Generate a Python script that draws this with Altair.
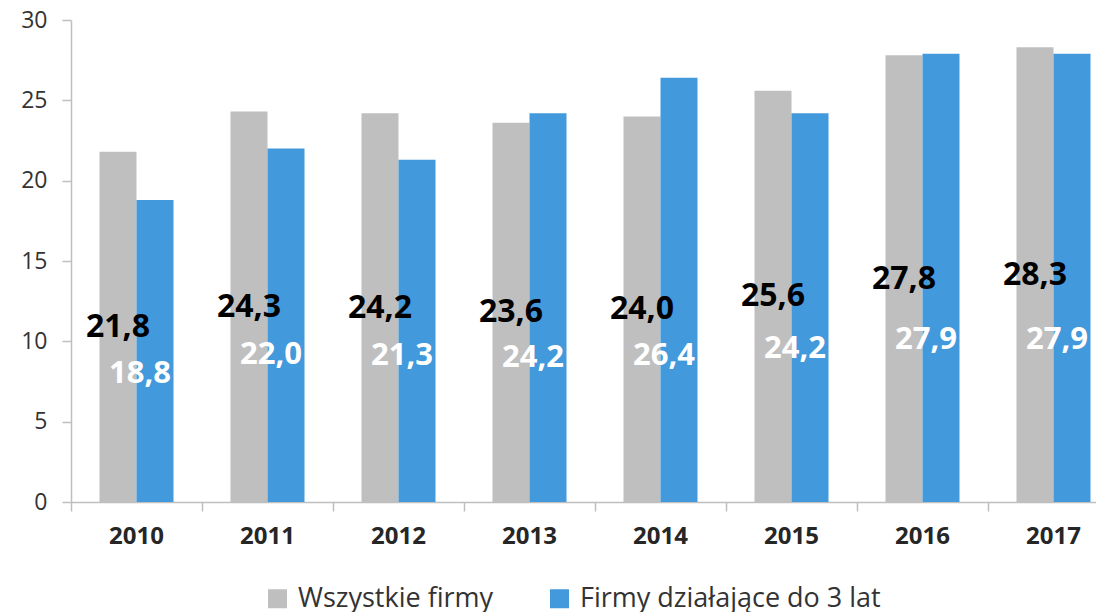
import altair as alt
import pandas as pd

years = ["2010", "2011", "2012", "2013", "2014", "2015", "2016", "2017"]
series_names = ["Wszystkie firmy", "Firmy działające do 3 lat"]
all_firms = [21.8, 24.3, 24.2, 23.6, 24.0, 25.6, 27.8, 28.3]
young_firms = [18.8, 22.0, 21.3, 24.2, 26.4, 24.2, 27.9, 27.9]
# height (in axis units) at which the white labels of the blue series sit
young_label_at = [7.97, 9.18, 9.06, 8.96, 9.09, 9.55, 10.11, 10.11]
colors = ["#BFBFBF", "#4299DC"]

rows = []
for i, y in enumerate(years):
    rows.append({"year": y, "series": series_names[0], "value": all_firms[i],
                 "label": f"{all_firms[i]:.1f}".replace(".", ","),
                 "label_y": all_firms[i] / 2})
    rows.append({"year": y, "series": series_names[1], "value": young_firms[i],
                 "label": f"{young_firms[i]:.1f}".replace(".", ","),
                 "label_y": young_label_at[i]})
df = pd.DataFrame(rows)

FONT = "Open Sans"

x_enc = alt.X("year:N", sort=years,
              scale=alt.Scale(range=[0, 1048], paddingInner=0, paddingOuter=0),
              axis=alt.Axis(title=None, bandPosition=0, tickSize=9, labelAngle=0,
                            labelFont=FONT, labelFontSize=24, labelFontWeight="bold",
                            labelColor="#262626", labelPadding=13,
                            domainColor="#BFBFBF", tickColor="#BFBFBF",
                            domainWidth=1.5, tickWidth=1.5))
xo_enc = alt.XOffset("series:N",
                     scale=alt.Scale(domain=series_names, paddingInner=0, paddingOuter=0.77))

base = alt.Chart(df).encode(x=x_enc, xOffset=xo_enc)

bars = base.mark_bar().encode(
    y=alt.Y("value:Q", scale=alt.Scale(domain=[0, 30]),
            axis=alt.Axis(title=None, values=[0, 5, 10, 15, 20, 25, 30], grid=False,
                          tickSize=9, labelFont=FONT, labelFontSize=23,
                          labelColor="#333333", labelPadding=15,
                          domainColor="#BFBFBF", tickColor="#BFBFBF",
                          domainWidth=1.5, tickWidth=1.5)),
    color=alt.Color("series:N",
                    scale=alt.Scale(domain=series_names, range=colors),
                    legend=alt.Legend(title=None, orient="none", direction="horizontal",
                                      legendX=193, legendY=565,
                                      symbolType="square", symbolSize=361,
                                      symbolStrokeWidth=0, labelFont=FONT,
                                      labelFontSize=27, labelColor="#333333",
                                      labelOffset=7, columnPadding=52,
                                      labelLimit=400)),
)

black_labels = base.transform_filter(
    alt.datum.series == series_names[0]
).mark_text(font=FONT, fontSize=32, fontWeight="bold", color="black",
            align="center", baseline="middle").encode(
    y=alt.Y("label_y:Q"), text="label:N")

white_labels = base.transform_filter(
    alt.datum.series == series_names[1]
).mark_text(font=FONT, fontSize=31, fontWeight="bold", color="white",
            align="right", baseline="middle", dx=16).encode(
    y=alt.Y("label_y:Q"), text="label:N")

chart = alt.layer(bars, black_labels, white_labels).properties(
    width=1025, height=482,
    autosize=alt.AutoSizeParams(type="none"),
    padding={"left": 63, "top": 12, "right": 0, "bottom": 110},
).configure_view(stroke=None)

chart.save("out.html", embed_options={"renderer": "svg", "actions": False})
